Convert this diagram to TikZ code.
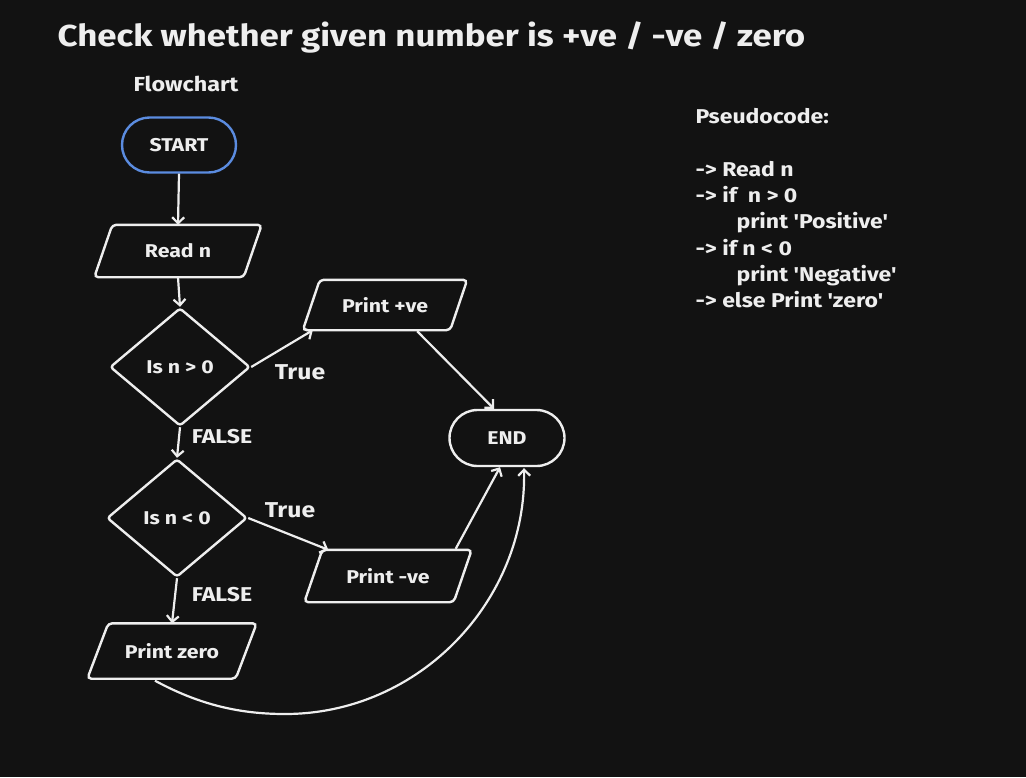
\documentclass[tikz,border=0pt]{standalone}
\usepackage{fontspec}
\newfontfamily\hand{Fira Sans}[FakeStretch=1.15]
\usetikzlibrary{shapes.geometric,shapes.misc,arrows.meta,calc}
\definecolor{bg}{HTML}{121212}
\definecolor{ink}{HTML}{EEEEEE}
\definecolor{startblue}{HTML}{5B8CE0}
\newcommand\drawpara[2]{%
  \draw[parashape] (#1.south west) -- ($(#1.north west)+(#2,0)$) -- (#1.north east)
    -- ($(#1.south east)+(-#2,0)$) -- cycle;}
\begin{document}
\begin{tikzpicture}[x=1pt,y=-1pt,
  every node/.style={font=\hand\bfseries, text=ink},
  term/.style={rounded rectangle, draw=ink, line width=2.4pt, minimum height=55, inner sep=0,
    font=\hand\bfseries\fontsize{18.5}{22}\selectfont},
  io/.style={rectangle, inner sep=0, minimum height=52,
    font=\hand\bfseries\fontsize{18.5}{22}\selectfont},
  parashape/.style={draw=ink, line width=2.4pt, rounded corners=4},
  dec/.style={diamond, draw=ink, line width=2.4pt, rounded corners=3, minimum width=140,
    minimum height=118, inner sep=0, font=\hand\bfseries\fontsize{18.5}{22}\selectfont},
  flow/.style={draw=ink, line width=2.2pt, -{Straight Barb[length=6pt,width=12pt]}},
  lbl/.style={font=\hand\bfseries\fontsize{21.5}{25}\selectfont},
  code/.style={anchor=base west, font=\hand\bfseries\fontsize{20}{24}\selectfont}
]
\fill[bg] (0,0) rectangle (1026,777);

% titles
\node[anchor=base west, font=\hand\bfseries\fontsize{30.3}{36}\selectfont] (title) at (54,46)
  {Check whether given number is +ve / -ve / zero};
\node[anchor=base west, font=\hand\bfseries\fontsize{20.3}{24}\selectfont] (fc) at (130,91) {Flowchart};

% flowchart nodes
\node[term, draw=startblue, minimum width=114] (start) at (179,145) {START};
\node[io, minimum width=167] (read) at (178,251) {Read n};
\node[dec] (d1) at (180,367) {Is n > 0};
\node[io, minimum width=164, minimum height=50] (pos) at (385,305) {Print +ve};
\node[dec] (d2) at (177,518) {Is n < 0};
\node[io, minimum width=167] (neg) at (388,576) {Print -ve};
\node[io, minimum width=169, minimum height=55] (zero) at (172,651) {Print zero};
\node[term, minimum width=115, minimum height=56] (end) at (507,438) {END};
\drawpara{read}{18}
\drawpara{pos}{17}
\drawpara{neg}{18}
\drawpara{zero}{21}

% labels
\node[lbl] (t1) at (300,372) {True};
\node[lbl] (t2) at (290,510) {True};
\node[lbl, font=\hand\bfseries\fontsize{20}{24}\selectfont] (f1) at (222,437) {FALSE};
\node[lbl, font=\hand\bfseries\fontsize{20}{24}\selectfont] (f2) at (222,595) {FALSE};

% connectors
\draw[flow] (start.south) -- (read.north);
\draw[flow] (read.south) -- (d1.north);
\draw[flow] (d1.east) -- ($(pos.south west)+(10,0)$);
\draw[flow] (d1.south) -- (d2.north);
\draw[flow] (d2.east) -- ($(neg.north west)+(24,0)$);
\draw[flow] (d2.south) -- (zero.north);
\draw[flow] ($(pos.south east)+(-50,1)$) -- ($(end.north)+(-13,0)$);
\draw[flow] ($(neg.north east)+(-16,-1)$) -- ($(end.south)+(-7,0)$);
\draw[flow] ($(zero.south)+(-17,2)$) .. controls (200,705) and (240,714) .. (285,714)
  .. controls (420,714) and (527,600) .. ($(end.south)+(17,1)$);

% pseudocode
\node[code] (p0) at (692,123) {Pseudocode:};
\node[code] (p1) at (692,176) {-> Read n};
\node[code] (p2) at (692,202) {-> if\ \ n > 0};
\node[code] (p3) at (733,228.5) {print 'Positive'};
\node[code] (p4) at (692,255) {-> if n < 0};
\node[code] (p5) at (733,281) {print 'Negative'};
\node[code] (p6) at (692,307.5) {-> else Print 'zero'};
\end{tikzpicture}
\end{document}
